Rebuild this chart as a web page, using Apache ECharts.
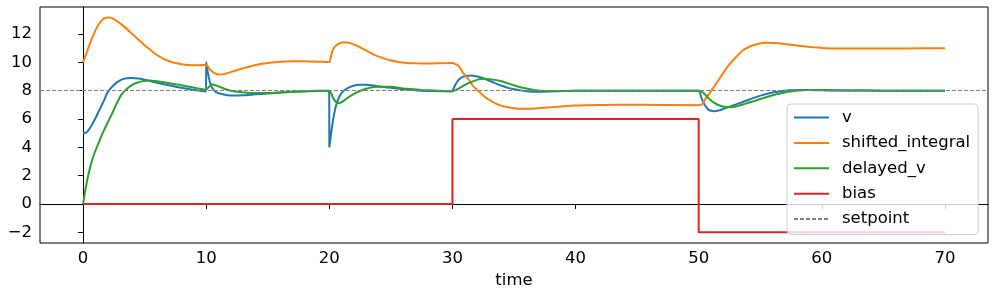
<!DOCTYPE html>
<html>
<head>
<meta charset="utf-8">
<script src="https://cdn.jsdelivr.net/npm/echarts@6/dist/echarts.min.js"></script>
<style>
html,body{margin:0;padding:0;background:#fff;}
#chart{width:996px;height:296px;}
</style>
</head>
<body>
<div id="chart"></div>
<script>
// ---- data ----
const seriesNames = ['v', 'shifted_integral', 'delayed_v', 'bias', 'setpoint'];
const xTicks = [0, 10, 20, 30, 40, 50, 60, 70];
const yTicks = [-2, 0, 2, 4, 6, 8, 10, 12];
const setpoint = 8;

const vTime = [0,0.25,0.5,0.75,1,1.25,1.5,1.75,2,2.5,3,3.5,4,4.5,5,6,7,8,9,9.99,
  10,10.1,10.2,10.3,10.45,10.6,10.8,11.1,11.6,12.2,13,14,15,16,17,18,19,19.99,
  20,20.15,20.3,20.45,20.6,20.8,21,21.3,21.7,22.1,22.5,23,23.6,24.3,25,26.3,27.5,28.5,29.99,
  30,30.2,30.4,30.6,30.8,31.1,31.5,32,32.5,33,33.5,34,34.5,35,35.5,36,37,38,39,40,45,
  50,50.2,50.4,50.6,50.8,51,51.3,51.6,52,52.7,53.4,54,54.7,55.4,56.1,56.8,57.4,58.2,59,60,62,65,70];
const vValues = [5,5.04,5.28,5.65,6.05,6.5,6.95,7.4,7.9,8.4,8.72,8.87,8.9,8.86,8.78,8.56,8.38,8.2,8.05,7.95,
  10,9.45,9,8.6,8.25,8.05,7.9,7.8,7.7,7.65,7.67,7.74,7.8,7.87,7.92,7.96,7.99,8,
  4,5,5.9,6.6,7.1,7.55,7.84,8.08,8.27,8.38,8.42,8.42,8.36,8.27,8.2,8.08,8,7.97,7.96,
  7.96,8.35,8.65,8.85,8.96,9.04,9.07,9,8.88,8.7,8.52,8.35,8.2,8.1,8.02,7.96,7.92,7.94,7.97,7.99,8,
  8,7.55,7.14,6.85,6.66,6.58,6.55,6.6,6.71,6.93,7.14,7.34,7.56,7.74,7.89,7.98,8.03,8.05,8.05,8.03,8.01,8,8];

const siTime = [0,0.25,0.5,0.75,1,1.25,1.5,1.75,2,2.25,2.5,3,3.5,4,4.5,5,5.5,6,6.5,7,7.5,8,8.5,9,9.5,
  10,10.3,10.6,11,11.5,12.2,13,13.6,14.3,15,16,17,18,19,
  20,20.15,20.3,20.5,20.8,21.2,21.6,22.2,22.9,23.6,24.3,24.9,25.6,26.3,27,28,29,
  30,30.5,30.9,31.4,31.7,32.2,32.8,33.5,34.1,35,35.8,36.5,37.5,38.5,40,42,45,
  50,50.3,50.5,50.9,51.5,52,52.5,53.1,53.6,54.2,54.8,55.5,56.2,56.9,57.7,58.5,59.3,60.1,61,62,64,66,68,70];
const siValues = [10,10.6,11.2,11.75,12.25,12.65,12.95,13.12,13.17,13.15,13.05,12.75,12.4,12,11.6,11.2,10.85,10.52,10.27,10.08,9.95,9.87,9.82,9.8,9.8,
  9.82,9.5,9.28,9.15,9.17,9.37,9.58,9.73,9.86,9.96,10.05,10.08,10.07,10.05,
  10.03,10.5,10.9,11.15,11.33,11.42,11.38,11.19,10.88,10.55,10.32,10.15,10.03,9.96,9.93,9.92,9.94,
  9.96,9.75,9.2,8.7,8.3,7.9,7.45,7.1,6.9,6.76,6.72,6.73,6.8,6.86,6.95,6.99,7,
  6.97,7.05,7.35,7.84,8.6,9.26,9.85,10.43,10.85,11.14,11.3,11.38,11.36,11.3,11.22,11.14,11.07,11.02,10.98,10.97,10.97,10.98,10.99,11];

const dvTime = [0,0.2,0.4,0.7,0.95,1.25,1.5,1.75,2,2.3,2.6,2.85,3.1,3.4,3.65,4.1,4.5,5.3,6,6.4,7,7.7,8.5,9.2,9.9,
  10,10.25,10.5,10.8,11.1,11.6,12.2,12.9,13.6,14.9,16.2,17.6,19,
  20,20.3,20.6,20.8,21.1,21.5,21.9,22.4,23,23.8,24.9,26.3,27.5,28.8,
  30,30.4,30.8,31.2,31.7,32.1,32.5,33.3,33.9,34.4,35,35.7,36.4,37.1,38,40,45,
  50,50.4,50.9,51.3,51.7,52.1,52.6,53.1,53.6,54.1,54.7,55.4,56.1,56.8,57.4,58.1,58.8,60.1,62,65,70];
const dvValues = [0,1.05,1.95,3,3.65,4.3,4.82,5.3,5.75,6.28,6.85,7.3,7.7,8,8.2,8.46,8.6,8.71,8.67,8.62,8.52,8.43,8.3,8.18,8.08,
  8.06,8.3,8.43,8.37,8.27,8.1,7.96,7.88,7.84,7.84,7.88,7.94,7.98,
  8,7.49,7.14,7.12,7.25,7.5,7.72,7.94,8.13,8.27,8.27,8.13,8.05,8,
  7.96,8.1,8.3,8.5,8.67,8.8,8.85,8.78,8.68,8.55,8.38,8.2,8.08,8,7.97,7.99,8,
  8,7.84,7.37,7.12,6.95,6.86,6.83,6.9,7.02,7.16,7.32,7.52,7.7,7.84,7.94,8.01,8.05,8.05,8.02,8,8];

const biasTime = [0,30,30,50,50,70];
const biasValues = [0,0,6,6,-2,-2];

// ---- chart ----
const zip = (t, v) => t.map((x, i) => [x, v[i]]);
const FONT = 'DejaVu Sans';
const colors = ['#1f77b4', '#ff7f0e', '#2ca02c', '#d62728', '#808080'];

const chart = echarts.init(document.getElementById('chart'), null, {renderer: 'canvas'});
const lineSeries = (name, data, color, smooth) => ({
  name, type: 'line', data, symbol: 'none', showSymbol: false,
  smooth: smooth,
  lineStyle: {width: 2, color}, itemStyle: {color}, animation: false, z: 2
});

chart.setOption({
  animation: false,
  textStyle: {fontFamily: FONT},
  grid: {left: 40, right: 8, top: 7, bottom: 53, show: true, borderColor: '#000', borderWidth: 1, backgroundColor: 'transparent'},
  xAxis: {
    type: 'value', min: -3.5, max: 73.5,
    name: 'time', nameLocation: 'middle', nameGap: 27,
    nameTextStyle: {fontSize: 16.5, color: '#000', fontFamily: FONT},
    axisLine: {show: true, lineStyle: {color: '#000', width: 1}},
    axisTick: {show: true, length: 5, lineStyle: {color: '#000', width: 1}, customValues: xTicks},
    axisLabel: {customValues: xTicks, fontSize: 16.5, color: '#000', margin: 7, fontFamily: FONT},
    splitLine: {show: false}
  },
  yAxis: {
    type: 'value', min: -2.76, max: 13.91,
    axisLine: {show: true, lineStyle: {color: '#000', width: 1}},
    axisTick: {show: true, length: 5, lineStyle: {color: '#000', width: 1}, customValues: yTicks},
    axisLabel: {customValues: yTicks, fontSize: 16.5, color: '#000', margin: 8, fontFamily: FONT,
      formatter: v => (v < 0 ? '\u2212' + Math.abs(v) : String(v))},
    splitLine: {show: false}
  },
  legend: {
    orient: 'vertical', left: 787, top: 104,
    data: seriesNames,
    itemWidth: 35, itemHeight: 17, itemGap: 8.4,
    padding: [5, 8, 7, 6],
    itemStyle: {opacity: 0, borderWidth: 0},
    backgroundColor: 'rgba(255,255,255,0.8)',
    borderColor: '#cccccc', borderWidth: 1, borderRadius: 4,
    textStyle: {fontSize: 16.5, color: '#000', fontFamily: FONT, padding: [0, 0, 0, 8], lineHeight: 17}
  },
  series: [
    lineSeries(seriesNames[0], zip(vTime, vValues), colors[0], 0.2),
    lineSeries(seriesNames[1], zip(siTime, siValues), colors[1], 0.2),
    lineSeries(seriesNames[2], zip(dvTime, dvValues), colors[2], 0.2),
    lineSeries(seriesNames[3], zip(biasTime, biasValues), colors[3], false),
    {
      name: seriesNames[4], type: 'line', data: [], symbol: 'none',
      lineStyle: {width: 1.2, color: colors[4], type: [4, 2]}, itemStyle: {color: colors[4]},
      markLine: {
        silent: true, symbol: 'none', label: {show: false},
        lineStyle: {width: 1.2, color: colors[4], type: [4, 2]},
        data: [{yAxis: setpoint}]
      },
      z: 3
    }
  ]
});
</script>
</body>
</html>
